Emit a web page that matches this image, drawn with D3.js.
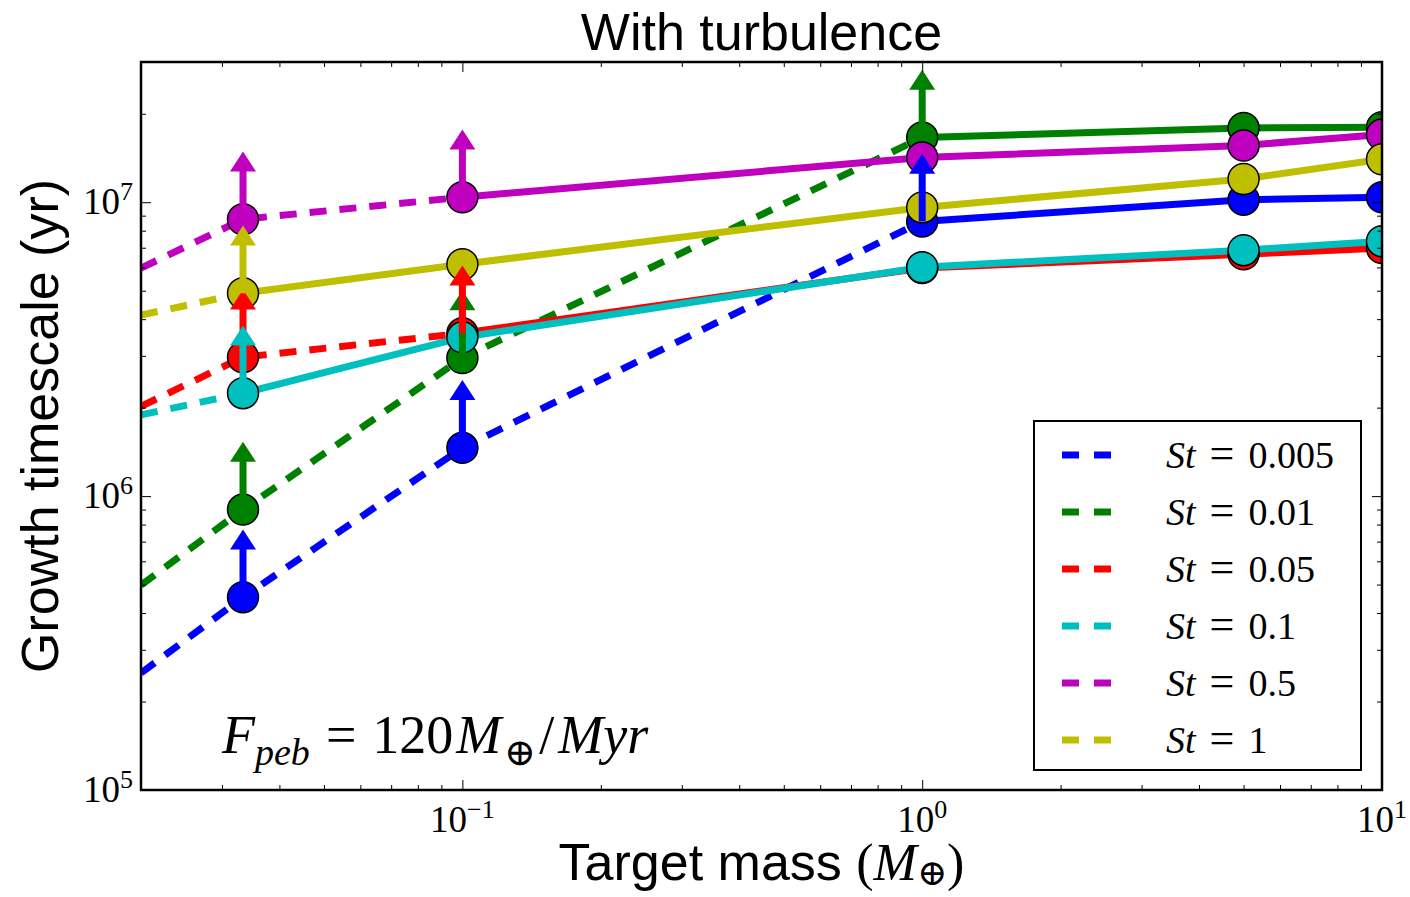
<!DOCTYPE html>
<html>
<head>
<meta charset="utf-8">
<script src="https://d3js.org/d3.v7.min.js"></script>
<style>
  body { margin: 0; background: white; }
  .sans { font-family: "Liberation Sans", Arial, sans-serif; }
  .serif { font-family: "Liberation Serif", "DejaVu Serif", serif; }
  .tick line { stroke: black; stroke-width: 1; }
</style>
</head>
<body>
<svg id="chart" width="1410" height="897"></svg>
<script>
// target masses (Earth masses); first value is where the curves enter at the left edge
const targetMass = [0.02, 1 / 30, 0.1, 1, 5, 10];

// growth timescales (yr), one array per Stokes number
const st0005 = [2.5e5, 4.53e5, 1.46e6, 8.6e6, 1.02e7, 1.04e7];
const st001  = [4.98e5, 9.0e5, 2.95e6, 1.66e7, 1.79e7, 1.80e7];
const st005  = [2.02e6, 2.97e6, 3.58e6, 5.97e6, 6.65e6, 6.98e6];
const st01   = [1.89e6, 2.24e6, 3.47e6, 6.01e6, 6.87e6, 7.37e6];
const st05   = [5.97e6, 8.75e6, 1.04e7, 1.42e7, 1.56e7, 1.70e7];
const st1    = [4.13e6, 4.9e6, 6.15e6, 9.6e6, 1.20e7, 1.40e7];

const stokesLabels = ["0.005", "0.01", "0.05", "0.1", "0.5", "1"];
const seriesColors = ["#0000ff", "#008000", "#ff0000", "#00bfbf", "#bf00bf", "#bfbf00"];
// index of the last point that is only a lower limit (arrow + dashed line up to it)
const lastLimit = [3, 3, 2, 1, 2, 1];

const xMajorTicks = [0.1, 1, 10];
const yMajorTicks = [1e5, 1e6, 1e7];

const allSeries = [st0005, st001, st005, st01, st05, st1];

const svg = d3.select("#chart");
const margin = { top: 62, right: 28, bottom: 107, left: 141 };
const width = +svg.attr("width");
const height = +svg.attr("height");

const x = d3.scaleLog().domain([0.02, 10]).range([margin.left, width - margin.right]);
const y = d3.scaleLog().domain([1e5, 3e7]).range([height - margin.bottom, margin.top]);

svg.append("rect").attr("width", width).attr("height", height).attr("fill", "white");

svg.append("clipPath").attr("id", "plotclip")
  .append("rect")
  .attr("x", x.range()[0]).attr("y", y.range()[1])
  .attr("width", x.range()[1] - x.range()[0])
  .attr("height", y.range()[0] - y.range()[1]);

const plot = svg.append("g").attr("clip-path", "url(#plotclip)");

const line = d3.line().x(d => x(d[0])).y(d => y(d[1]));

// lines: dashed up to last lower limit, solid after
allSeries.forEach((vals, s) => {
  const pts = targetMass.map((m, i) => [m, vals[i]]);
  plot.append("path")
    .attr("d", line(pts.slice(0, lastLimit[s] + 1)))
    .attr("fill", "none")
    .attr("stroke", seriesColors[s])
    .attr("stroke-width", 7)
    .attr("stroke-dasharray", "17,13");
  plot.append("path")
    .attr("d", line(pts.slice(lastLimit[s])))
    .attr("fill", "none")
    .attr("stroke", seriesColors[s])
    .attr("stroke-width", 7);
});

// markers
allSeries.forEach((vals, s) => {
  plot.selectAll(null)
    .data(targetMass.slice(1).map((m, i) => [m, vals[i + 1]]))
    .join("circle")
    .attr("cx", d => x(d[0]))
    .attr("cy", d => y(d[1]))
    .attr("r", 15.5)
    .attr("fill", seriesColors[s])
    .attr("stroke", "black")
    .attr("stroke-width", 1.5);
});

// lower-limit arrows
allSeries.forEach((vals, s) => {
  for (let i = 1; i <= lastLimit[s]; i++) {
    const px = x(targetMass[i]);
    const py = y(vals[i]);
    const tip = y(vals[i] * 1.7);
    plot.append("line")
      .attr("x1", px).attr("x2", px)
      .attr("y1", py).attr("y2", tip + 18)
      .attr("stroke", seriesColors[s])
      .attr("stroke-width", 7);
    plot.append("path")
      .attr("d", `M${px - 13},${tip + 20}L${px + 13},${tip + 20}L${px},${tip}Z`)
      .attr("fill", seriesColors[s]);
  }
});

// ticks on all four sides, pointing inward
const xAll = x.ticks();
const yAll = y.ticks();
const isMajor = v => Math.abs(Math.log10(v) - Math.round(Math.log10(v))) < 1e-9;
const xMinor = xAll.filter(v => !isMajor(v));
const yMinor = yAll.filter(v => !isMajor(v));

function addAxis(axisFn, scale, translate, majors, minors) {
  const g = svg.append("g").attr("transform", translate);
  g.append("g").call(axisFn(scale).tickValues(minors).tickSize(-5).tickSizeOuter(0).tickFormat(""));
  g.append("g").call(axisFn(scale).tickValues(majors).tickSize(-10).tickSizeOuter(0).tickFormat(""));
  g.selectAll(".domain").remove();
}
addAxis(d3.axisBottom, x, `translate(0,${y.range()[0]})`, xMajorTicks, xMinor);
addAxis(d3.axisTop, x, `translate(0,${y.range()[1]})`, xMajorTicks, xMinor);
addAxis(d3.axisLeft, y, `translate(${x.range()[0]},0)`, yMajorTicks, yMinor);
addAxis(d3.axisRight, y, `translate(${x.range()[1]},0)`, yMajorTicks, yMinor);

// frame
svg.append("rect")
  .attr("x", x.range()[0]).attr("y", y.range()[1])
  .attr("width", x.range()[1] - x.range()[0])
  .attr("height", y.range()[0] - y.range()[1])
  .attr("fill", "none").attr("stroke", "black").attr("stroke-width", 2.5);

// tick labels as 10^n
function powLabel(sel, v) {
  const e = Math.round(Math.log10(v));
  sel.append("tspan").text("10");
  sel.append("tspan").attr("font-size", 26).attr("dy", -14)
    .text(e < 0 ? "\u2212" + (-e) : String(e));
}
xMajorTicks.forEach(v => {
  const t = svg.append("text").attr("class", "serif")
    .attr("x", x(v)).attr("y", y.range()[0] + 42)
    .attr("text-anchor", "middle").attr("font-size", 37);
  powLabel(t, v);
});
yMajorTicks.forEach(v => {
  const t = svg.append("text").attr("class", "serif")
    .attr("x", x.range()[0] - 8).attr("y", y(v) + 12)
    .attr("text-anchor", "end").attr("font-size", 37);
  powLabel(t, v);
});

// title and axis labels
svg.append("text").attr("class", "sans")
  .attr("x", (x.range()[0] + x.range()[1]) / 2).attr("y", 50)
  .attr("text-anchor", "middle").attr("font-size", 52)
  .text("With turbulence");

svg.append("text").attr("class", "sans")
  .attr("transform", `translate(58,${(y.range()[0] + y.range()[1]) / 2})rotate(-90)`)
  .attr("text-anchor", "middle").attr("font-size", 52)
  .text("Growth timescale (yr)");

const xl = svg.append("text").attr("class", "sans")
  .attr("x", (x.range()[0] + x.range()[1]) / 2).attr("y", 880)
  .attr("text-anchor", "middle").attr("font-size", 52);
xl.append("tspan").text("Target mass ");
xl.append("tspan").attr("class", "serif").text("(");
xl.append("tspan").attr("class", "serif").attr("font-style", "italic").text("M");
xl.append("tspan").attr("class", "serif").attr("font-size", 36).attr("dy", 5).text("\u2295");
xl.append("tspan").attr("class", "serif").attr("dy", -5).text(")");

// annotation
const ann = svg.append("text").attr("class", "serif")
  .attr("x", 222).attr("y", 753).attr("font-size", 54);
ann.append("tspan").attr("font-style", "italic").text("F");
ann.append("tspan").attr("font-style", "italic").attr("font-size", 38).attr("dy", 12).text("peb");
ann.append("tspan").attr("dy", -12).attr("dx", 16).text("=");
ann.append("tspan").attr("dx", 16).text("120");
ann.append("tspan").attr("font-style", "italic").attr("dx", 3).text("M");
ann.append("tspan").attr("font-size", 38).attr("dy", 12).attr("dx", 3).text("\u2295");
ann.append("tspan").attr("dy", -12).attr("dx", 3).text("/");
ann.append("tspan").attr("font-style", "italic").attr("dx", 4).text("Myr");

// legend
const lg = svg.append("g");
lg.append("rect")
  .attr("x", 1034).attr("y", 421).attr("width", 327).attr("height", 349)
  .attr("fill", "white").attr("stroke", "black").attr("stroke-width", 2);
stokesLabels.forEach((lab, i) => {
  const ly = 455 + i * 57;
  lg.append("line")
    .attr("x1", 1062).attr("x2", 1111).attr("y1", ly).attr("y2", ly)
    .attr("stroke", seriesColors[i]).attr("stroke-width", 7)
    .attr("stroke-dasharray", "17,15");
  const t = lg.append("text").attr("class", "serif")
    .attr("x", 1166).attr("y", ly + 13).attr("font-size", 38);
  t.append("tspan").attr("font-style", "italic").text("St");
  t.append("tspan").attr("dx", 14).attr("font-size", 44).text("=");
  t.append("tspan").attr("dx", 14).text(lab);
});
</script>
</body>
</html>
